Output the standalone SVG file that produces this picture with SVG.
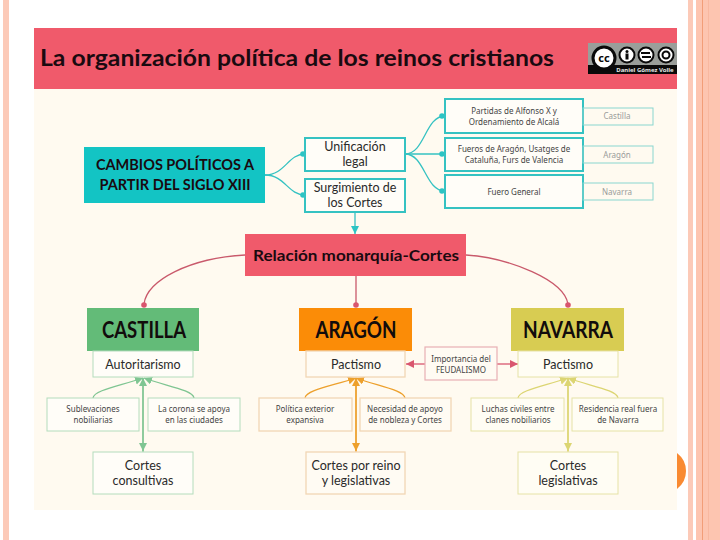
<svg xmlns="http://www.w3.org/2000/svg" width="720" height="540" viewBox="0 0 720 540">
<defs>
<marker id="ag" markerUnits="userSpaceOnUse" markerWidth="10" markerHeight="10" refX="8" refY="4" orient="auto"><path d="M0 0L8 4L0 8z" fill="#7fc592"/></marker>
<marker id="ao" markerUnits="userSpaceOnUse" markerWidth="10" markerHeight="10" refX="8" refY="4" orient="auto"><path d="M0 0L8 4L0 8z" fill="#eda02c"/></marker>
<marker id="ay" markerUnits="userSpaceOnUse" markerWidth="10" markerHeight="10" refX="8" refY="4" orient="auto"><path d="M0 0L8 4L0 8z" fill="#dcd572"/></marker>
<marker id="ar" markerUnits="userSpaceOnUse" markerWidth="10" markerHeight="10" refX="8" refY="4" orient="auto"><path d="M0 0L8 4L0 8z" fill="#d9566e"/></marker>
<marker id="at" markerUnits="userSpaceOnUse" markerWidth="10" markerHeight="10" refX="8" refY="4" orient="auto"><path d="M0 0L8 4L0 8z" fill="#2cc4c4"/></marker>
</defs>
<style>
text{font-family:"Noto Sans","Liberation Sans",sans-serif;text-anchor:middle;fill:#333}
.h{font-family:"Lato","Liberation Sans",sans-serif;font-weight:700;fill:#1a0a10}
.big{font-family:"Lato","Liberation Sans",sans-serif;font-weight:700;font-size:23px;fill:#120c0c}
.m{font-family:"Lato","Liberation Sans",sans-serif;font-size:12.500px;fill:#2a2a2a}
.s{font-size:8px;fill:#444}
.t{font-size:8px;fill:#9a9a9a}
.p{font-size:8px;fill:#444}
.tl{fill:#fffdf8;stroke:#35c2c2;stroke-width:2}
.tl2{fill:none;stroke:#8ad6cf;stroke-width:1}
.gb{fill:#fffdf8;stroke:#b4dcbc;stroke-width:1}
.ob{fill:#fffbf3;stroke:#f2d6b4;stroke-width:1.300}
.yb{fill:#fffdf4;stroke:#e6e2a6;stroke-width:1}
.rb{fill:#fffbf3;stroke:#e8b0b4;stroke-width:1.200}
.cn{fill:none;stroke-width:1.300}
</style>
<rect width="720" height="540" fill="#ffffff"/>
<g id="background">
<rect x="3" y="0" width="6" height="540" fill="#fccab8"/>
<rect x="688" y="0" width="5" height="540" fill="#fccab8"/>
<rect x="696" y="0" width="24" height="540" fill="#fdc5b0"/>
<rect x="702" y="0" width="1" height="540" fill="#f29e78"/>
<rect x="708" y="0" width="1" height="540" fill="#f8b8a0"/>
<rect x="34" y="89" width="643" height="421" fill="#fffaf0"/>
<path d="M677 453Q686 460 686 471Q686 482 677 489z" fill="#f98a32"/>
</g>
<g id="title">
<rect x="34" y="28" width="643" height="61" fill="#f05a6b"/>
<text class="h" x="297" y="66" font-size="23" textLength="514" lengthAdjust="spacingAndGlyphs">La organización política de los reinos cristianos</text>
</g>
<g id="cc-logo">
<rect x="588" y="43" width="89" height="31" fill="#9a9e9a"/>
<path d="M588 74V65H677V74z" fill="#0a0a0a"/>
<circle cx="604" cy="58" r="11" fill="#fff" stroke="#0a0a0a" stroke-width="3"/>
<text x="604" y="62" font-size="11" font-weight="700" style="fill:#0a0a0a">cc</text>
<circle cx="627" cy="55" r="7.500" fill="#fff" stroke="#0a0a0a" stroke-width="2"/>
<circle cx="627" cy="51.500" r="1.500" fill="#0a0a0a"/><rect x="625.500" y="53.500" width="3" height="6" fill="#0a0a0a"/>
<circle cx="646" cy="55" r="7.500" fill="#fff" stroke="#0a0a0a" stroke-width="2"/>
<path d="M641 53H650M651 57H642" stroke="#0a0a0a" stroke-width="2"/>
<circle cx="666" cy="55" r="7.500" fill="#fff" stroke="#0a0a0a" stroke-width="2"/>
<circle cx="666" cy="55" r="3.500" fill="none" stroke="#0a0a0a" stroke-width="2"/>
<text x="645" y="72" font-size="6" font-weight="700" style="fill:#e8e8e8">Daniel Gómez Volle</text>
</g>
<g id="connectors">
<g class="cn" stroke="#35c2c2">
<path d="M265 175C285 175 288 154 305 154"/>
<path d="M265 175C285 175 288 195 305 195"/>
<path d="M405 154C425 154 425 116 445 116"/>
<path d="M405 154H445"/>
<path d="M405 154C425 154 425 191 445 191"/>
<path d="M355 212V234" marker-end="url(#at)"/>
</g>
<g fill="#2cc4c4">
<circle cx="303" cy="154" r="2.800"/><circle cx="303" cy="195" r="2.800"/>
<circle cx="442" cy="116" r="2.800"/><circle cx="442" cy="154" r="2.800"/><circle cx="442" cy="191" r="2.800"/>
</g>
<g class="cn" stroke="#c9596b">
<path d="M245 255C190 258 147 280 144 304"/>
<path d="M356 276V304"/>
<path d="M466 255C510 258 564 280 568 304"/>
</g>
<g fill="#d9566e">
<circle cx="144" cy="305" r="2.800"/><circle cx="356" cy="305" r="2.800"/><circle cx="568" cy="305" r="2.800"/>
</g>
<g class="cn" stroke="#7fc592">
<path d="M93 398C94 390 120 386 143 378" marker-end="url(#ag)"/>
<path d="M194 398C193 390 166 386 144 378" marker-end="url(#ag)"/>
<path d="M143 452V378" marker-end="url(#ag)"/>
<path d="M143 378V451" marker-end="url(#ag)"/>
</g>
<g class="cn" stroke="#eda02c">
<path d="M305 398C306 390 332 386 356 378" marker-end="url(#ao)"/>
<path d="M405 398C404 390 378 386 356 378" marker-end="url(#ao)"/>
<path d="M356 452V378" marker-end="url(#ao)"/>
<path d="M356 378V451" marker-end="url(#ao)"/>
</g>
<g class="cn" stroke="#dcd572">
<path d="M518 398C519 390 545 386 568 378" marker-end="url(#ay)"/>
<path d="M618 398C617 390 590 386 568 378" marker-end="url(#ay)"/>
<path d="M568 452V378" marker-end="url(#ay)"/>
<path d="M568 378V451" marker-end="url(#ay)"/>
</g>
<g class="cn" stroke="#d9566e">
<path d="M425 364H406" marker-end="url(#ar)"/>
<path d="M497 364H518" marker-end="url(#ar)"/>
</g>
</g>
<g id="cambios"><rect x="84" y="147" width="181" height="56" fill="#13c4c4"/>
<text class="h" x="175" y="170" font-size="14.500">CAMBIOS POLÍTICOS A</text><text class="h" x="175" y="190" font-size="14.500">PARTIR DEL SIGLO XIII</text></g>
<g id="unificacion"><rect class="tl" x="305" y="138" width="100" height="33"/><text class="m" x="355" y="151">Unificación</text><text class="m" x="355" y="166">legal</text></g>
<g id="surgimiento"><rect class="tl" x="305" y="179" width="100" height="33"/><text class="m" x="355" y="192">Surgimiento de</text><text class="m" x="355" y="207">los Cortes</text></g>
<g id="partidas"><rect class="tl" x="445" y="99" width="138" height="34"/><text class="s" x="514" y="114">Partidas de Alfonso X y</text><text class="s" x="514" y="125">Ordenamiento de Alcalá</text></g>
<g id="fueros"><rect class="tl" x="445" y="138" width="138" height="33"/><text class="s" x="514" y="152">Fueros de Aragón, Usatges de</text><text class="s" x="514" y="163">Cataluña, Furs de Valencia</text></g>
<g id="fuero-general"><rect class="tl" x="445" y="175" width="138" height="33"/><text class="s" x="514" y="195">Fuero General</text></g>
<g id="side-castilla"><rect class="tl2" x="583" y="108" width="70" height="17"/><text class="t" x="617" y="119">Castilla</text></g>
<g id="side-aragon"><rect class="tl2" x="583" y="146" width="70" height="17"/><text class="t" x="617" y="158">Aragón</text></g>
<g id="side-navarra"><rect class="tl2" x="583" y="183" width="70" height="17"/><text class="t" x="617" y="195">Navarra</text></g>
<g id="relacion"><rect x="245" y="234" width="221" height="42" fill="#f05a6b"/><text class="h" x="356" y="261" font-size="16" textLength="206" lengthAdjust="spacingAndGlyphs">Relación monarquía-Cortes</text></g>
<g id="castilla"><rect x="87" y="308" width="112" height="43" fill="#63bb78"/><text class="big" x="144" y="338" textLength="84" lengthAdjust="spacingAndGlyphs">CASTILLA</text></g>
<g id="autoritarismo"><rect class="gb" x="93" y="351" width="100" height="26"/><text class="m" x="143" y="369">Autoritarismo</text></g>
<g id="sublevaciones"><rect class="gb" x="47" y="398" width="92" height="33"/><text class="s" x="93" y="412">Sublevaciones</text><text class="s" x="93" y="423">nobiliarias</text></g>
<g id="corona"><rect class="gb" x="148" y="398" width="92" height="33"/><text class="s" x="194" y="412">La corona se apoya</text><text class="s" x="194" y="423">en las ciudades</text></g>
<g id="consultivas"><rect class="gb" x="93" y="452" width="100" height="42"/><text class="m" x="143" y="470">Cortes</text><text class="m" x="143" y="485">consultivas</text></g>
<g id="aragon"><rect x="299" y="308" width="113" height="43" fill="#fb8c07"/><text class="big" x="356" y="338" textLength="81" lengthAdjust="spacingAndGlyphs">ARAGÓN</text></g>
<g id="pactismo-a"><rect class="ob" x="306" y="351" width="99" height="26"/><text class="m" x="356" y="369">Pactismo</text></g>
<g id="politica"><rect class="ob" x="259" y="398" width="93" height="33"/><text class="s" x="305" y="412">Política exterior</text><text class="s" x="305" y="423">expansiva</text></g>
<g id="necesidad"><rect class="ob" x="360" y="398" width="91" height="33"/><text class="s" x="405" y="412">Necesidad de apoyo</text><text class="s" x="405" y="423">de nobleza y Cortes</text></g>
<g id="cortes-reino"><rect class="ob" x="306" y="452" width="99" height="42"/><text class="m" x="356" y="470">Cortes por reino</text><text class="m" x="356" y="485">y legislativas</text></g>
<g id="importancia"><rect class="rb" x="425" y="347" width="72" height="33"/><text class="p" x="461" y="362">Importancia del</text><text class="p" x="461" y="373">FEUDALISMO</text></g>
<g id="navarra"><rect x="511" y="308" width="113" height="43" fill="#d8cc52"/><text class="big" x="568" y="338" textLength="90" lengthAdjust="spacingAndGlyphs">NAVARRA</text></g>
<g id="pactismo-n"><rect class="yb" x="518" y="351" width="100" height="26"/><text class="m" x="568" y="369">Pactismo</text></g>
<g id="luchas"><rect class="yb" x="471" y="398" width="93" height="33"/><text class="s" x="518" y="412">Luchas civiles entre</text><text class="s" x="518" y="423">clanes nobiliarios</text></g>
<g id="residencia"><rect class="yb" x="572" y="398" width="91" height="33"/><text class="s" x="618" y="412">Residencia real fuera</text><text class="s" x="618" y="423">de Navarra</text></g>
<g id="cortes-leg"><rect class="yb" x="518" y="452" width="100" height="42"/><text class="m" x="568" y="470">Cortes</text><text class="m" x="568" y="485">legislativas</text></g>
</svg>
